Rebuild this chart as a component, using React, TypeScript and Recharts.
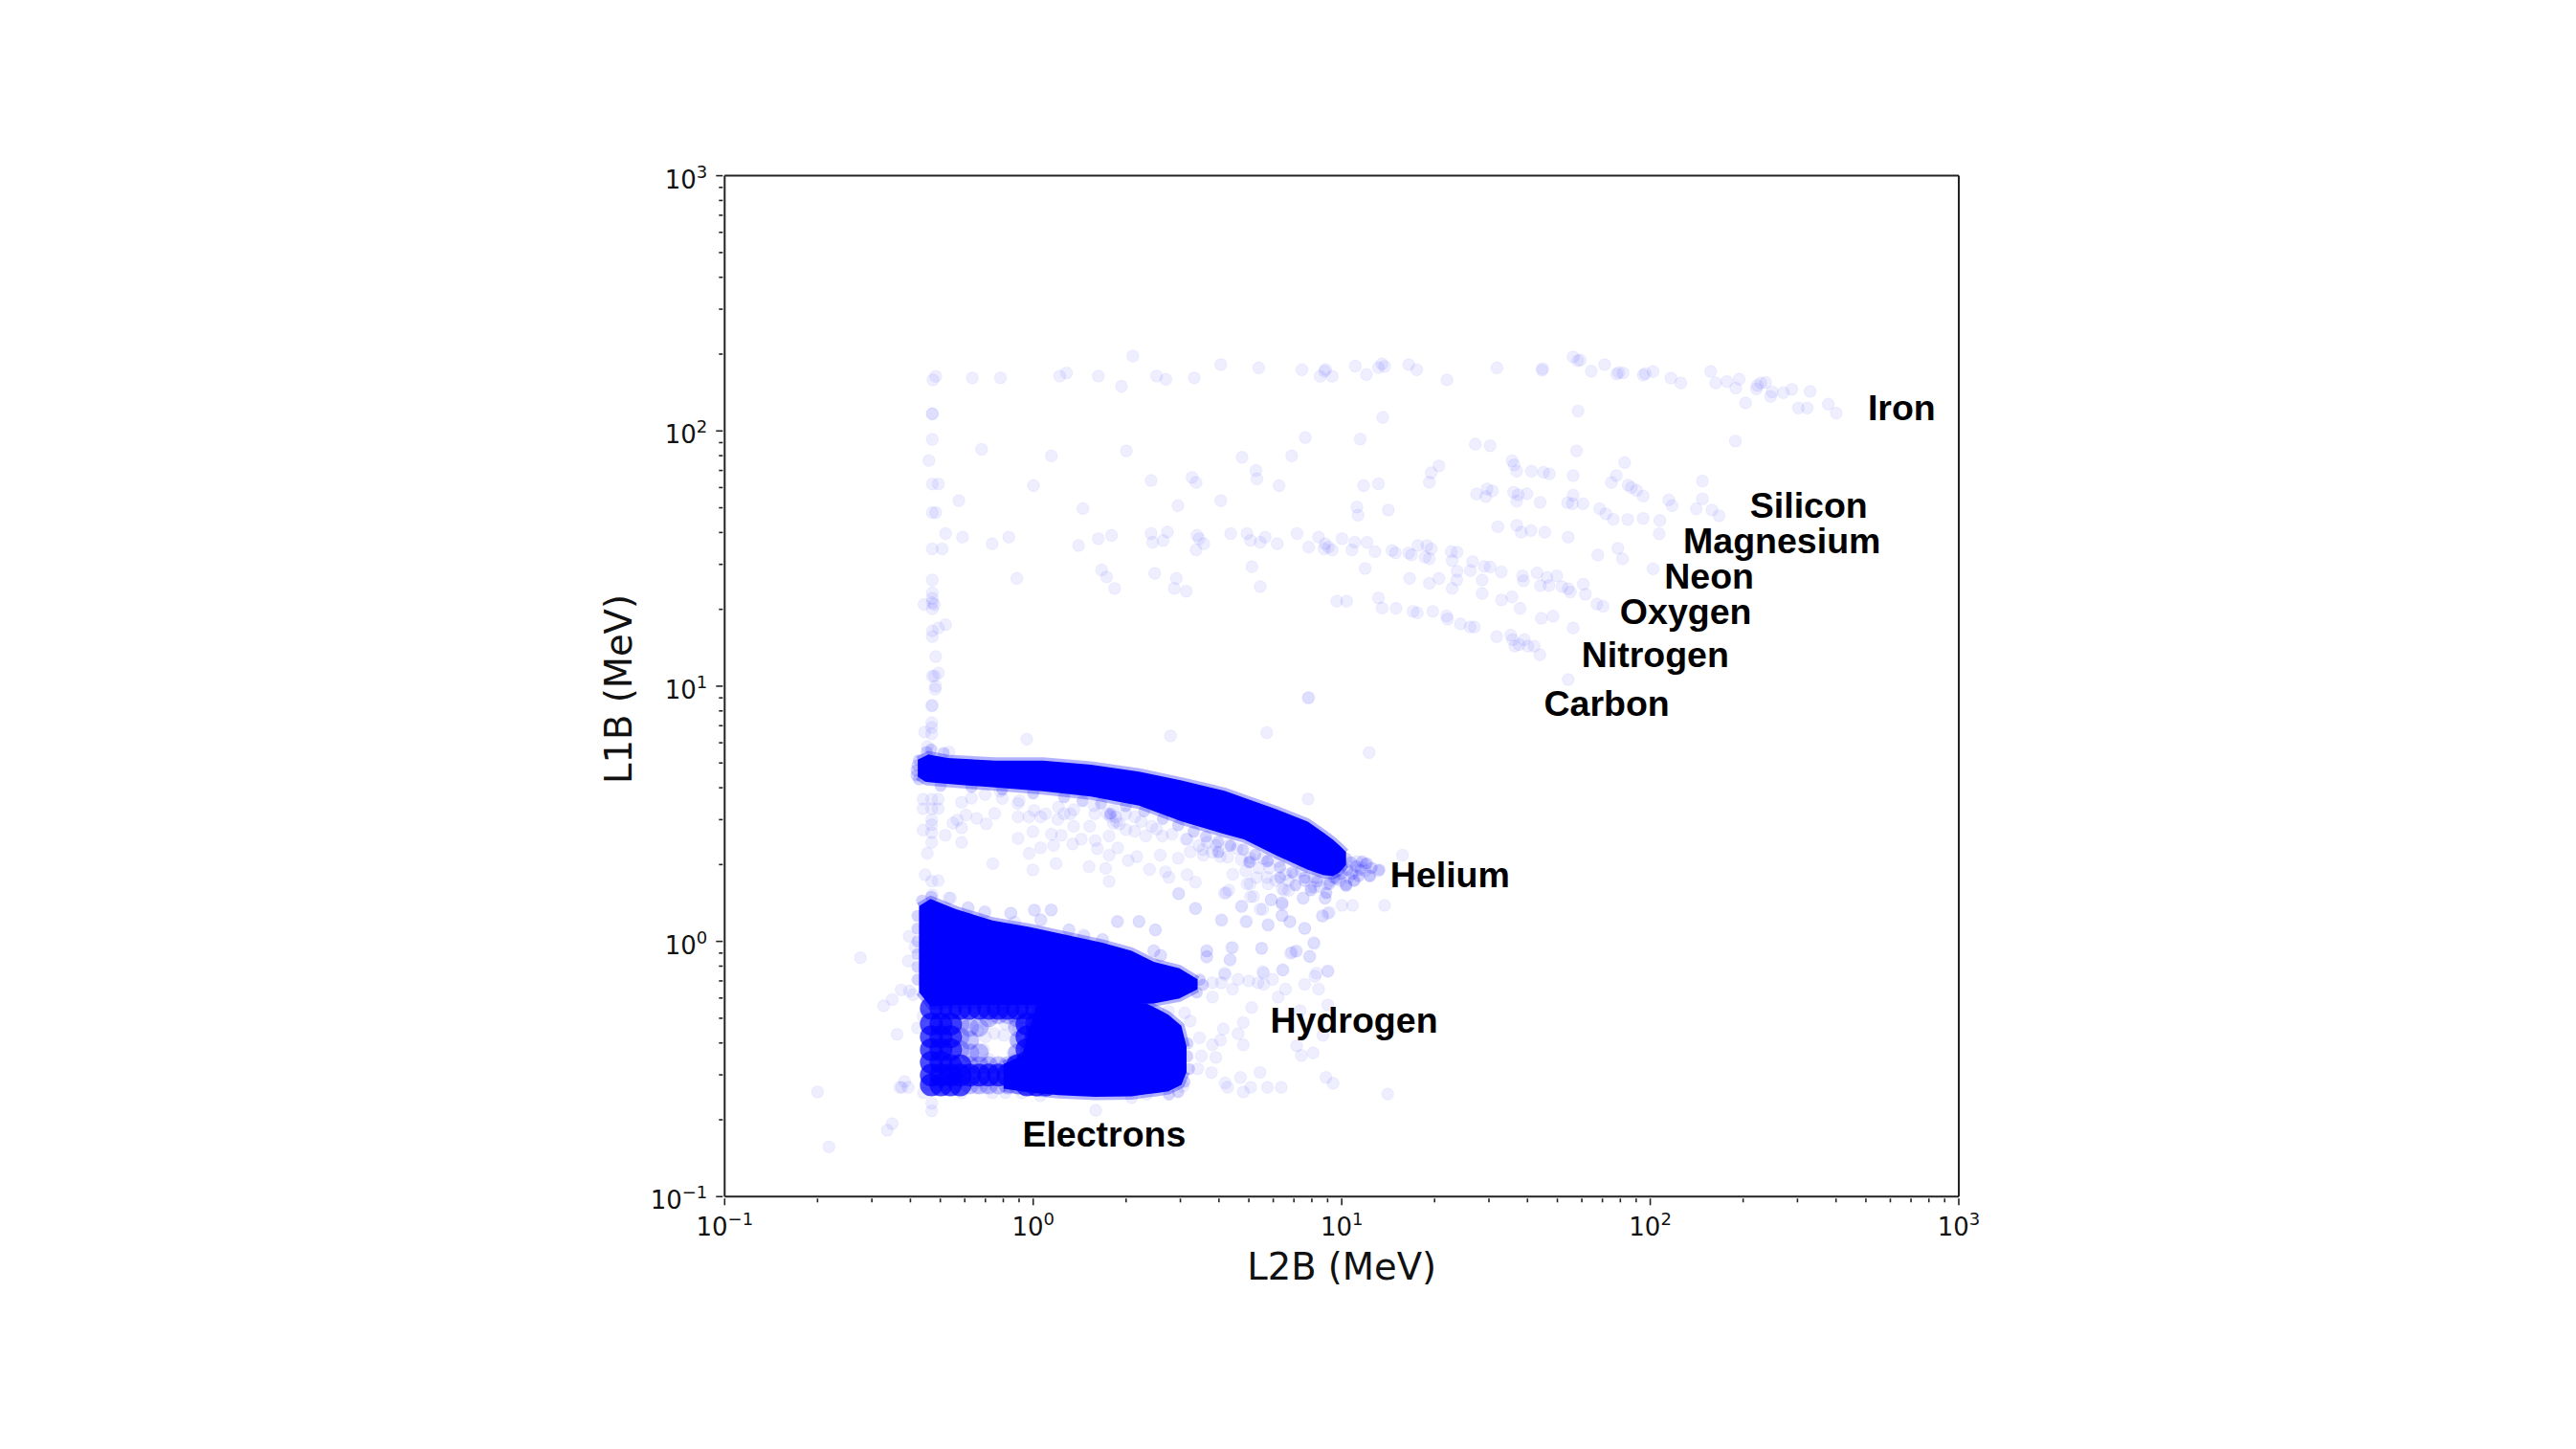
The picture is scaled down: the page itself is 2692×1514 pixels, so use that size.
import React from "react";
import { Area, ComposedChart, ReferenceDot, ReferenceLine, Scatter, XAxis, YAxis } from "recharts";

const heavyIonsLow: number[][] = [
  [0.323, 2.293], [0.608, 2.26], [0.731, 2.247], [0.871, 2.24], [0.944, 2.234], [0.948, 2.241], [0.93, 2.214], [0.969, 2.214],
  [1.044, 2.254], [1.08, 2.221], [1.119, 2.248], [1.13, 2.263], [1.139, 2.253], [1.217, 2.26], [1.243, 2.24], [-0.316, 2.214],
  [-0.325, 2.2], [-0.197, 2.208], [-0.106, 2.208], [0.086, 2.215], [0.108, 2.227], [0.211, 2.215], [0.286, 2.175], [0.4, 2.215],
  [0.43, 2.202], [0.522, 2.208], [-0.327, 2.067], [-0.327, 2.067], [-0.327, 1.967], [-0.338, 1.884], [-0.167, 1.928], [0.059, 1.902],
  [0.302, 1.922], [1.133, 2.053], [0.882, 1.974], [1.06, 1.968], [0.677, 1.897], [0.838, 1.902], [-0.327, 1.792], [-0.307, 1.792],
  [0.001, 1.786], [0.382, 1.806], [0.515, 1.818], [0.528, 1.798], [0.722, 1.845], [0.725, 1.812], [0.797, 1.786], [1.071, 1.786],
  [1.119, 1.793], [1.29, 1.836], [1.284, 1.799], [-0.241, 1.727], [-0.327, 1.68], [-0.316, 1.68], [0.161, 1.696], [0.469, 1.707],
  [0.608, 1.727], [1.049, 1.702], [1.053, 1.67], [1.151, 1.69], [-0.284, 1.598], [-0.229, 1.584], [-0.133, 1.558], [-0.079, 1.584],
  [0.147, 1.551], [0.211, 1.578], [0.254, 1.591], [0.382, 1.598], [0.387, 1.564], [0.421, 1.571], [0.435, 1.604], [0.531, 1.591],
  [0.538, 1.578], [0.553, 1.558], [0.528, 1.534], [0.64, 1.598], [0.693, 1.598], [0.704, 1.571], [0.736, 1.564], [0.752, 1.584],
  [0.791, 1.558], [0.855, 1.598], [0.893, 1.545], [0.925, 1.584], [0.946, 1.558], [0.943, 1.538], [0.957, 1.545], [0.969, 1.534],
  [1.001, 1.578], [1.033, 1.534], [1.042, 1.564], [1.082, 1.564], [1.108, 1.527], [1.163, 1.532], [1.174, 1.522], [1.217, 1.522],
  [1.226, 1.514], [1.247, 1.551], [1.276, 1.551], [1.27, 1.506], [1.284, 1.5], [1.29, 1.538], [-0.327, 1.538], [-0.295, 1.538],
  [-0.327, 1.416], [0.222, 1.455], [0.238, 1.428], [0.394, 1.442], [0.464, 1.422], [0.709, 1.468], [1.076, 1.461], [1.22, 1.422],
  [1.284, 1.403], [-0.053, 1.422], [0.264, 1.383], [0.457, 1.383], [0.496, 1.372], [0.736, 1.39], [-0.327, 1.366], [-0.327, 1.344],
  [-0.327, 1.327], [-0.354, 1.32], [-0.32, 1.32], [-0.327, 1.303], [0.984, 1.333], [1.016, 1.333], [1.119, 1.346], [1.131, 1.306],
  [1.176, 1.305], [1.231, 1.293], [1.245, 1.287], [1.295, 1.293], [-0.284, 1.241], [-0.307, 1.228], [-0.327, 1.217], [-0.327, 1.194],
  [-0.316, 1.116], [-0.327, 1.039], [-0.32, 1.04], [-0.307, 1.052], [-0.316, 1.0], [-0.327, 0.925], [0.893, 0.956],
];

const heavyIonsHigh: number[][] = [
  [1.341, 2.2], [1.503, 2.247], [1.649, 2.238], [1.651, 2.244], [1.75, 2.29], [1.765, 2.275], [1.773, 2.278], [1.809, 2.234],
  [1.852, 2.26], [1.891, 2.223], [1.898, 2.229], [1.912, 2.227], [1.977, 2.219], [1.984, 2.225], [2.009, 2.233], [2.067, 2.207],
  [2.099, 2.188], [2.196, 2.233], [2.212, 2.188], [2.248, 2.194], [2.277, 2.168], [2.288, 2.203], [2.344, 2.165], [2.347, 2.178],
  [2.358, 2.188], [2.374, 2.19], [2.39, 2.135], [2.395, 2.153], [2.431, 2.15], [2.459, 2.163], [2.518, 2.155], [2.309, 2.11],
  [2.48, 2.09], [2.509, 2.09], [2.577, 2.105], [2.603, 2.07], [1.766, 2.078], [2.276, 1.96], [1.433, 1.948], [1.481, 1.942],
  [1.761, 1.922], [1.917, 1.876], [1.552, 1.883], [1.559, 1.867], [1.567, 1.842], [1.315, 1.863], [1.615, 1.842], [1.654, 1.838],
  [1.673, 1.832], [1.75, 1.825], [1.89, 1.825], [1.874, 1.798], [1.928, 1.788], [1.939, 1.778], [1.956, 1.767], [1.977, 1.745],
  [2.169, 1.804], [1.471, 1.773], [1.488, 1.765], [1.437, 1.753], [1.467, 1.743], [1.557, 1.76], [1.572, 1.75], [1.567, 1.725],
  [1.6, 1.754], [1.643, 1.72], [1.75, 1.748], [1.732, 1.719], [1.748, 1.715], [1.782, 1.715], [2.06, 1.73], [2.071, 1.707],
  [2.169, 1.734], [2.149, 1.695], [2.2, 1.69], [2.223, 1.668], [1.836, 1.695], [1.856, 1.675], [1.88, 1.654], [1.927, 1.653],
  [1.977, 1.657], [2.031, 1.649], [1.506, 1.625], [1.567, 1.63], [1.582, 1.603], [1.613, 1.61], [1.658, 1.603], [1.734, 1.584],
  [2.029, 1.597], [1.83, 1.514], [1.895, 1.54], [1.91, 1.499], [2.009, 1.46], [1.355, 1.527], [1.374, 1.525], [1.358, 1.492],
  [1.424, 1.488], [1.417, 1.453], [1.462, 1.469], [1.481, 1.467], [1.517, 1.448], [1.374, 1.45], [1.373, 1.416], [1.358, 1.383],
  [1.315, 1.422], [1.455, 1.416], [1.455, 1.363], [1.586, 1.432], [1.589, 1.413], [1.633, 1.444], [1.665, 1.426], [1.644, 1.394],
  [1.672, 1.394], [1.697, 1.432], [1.714, 1.39], [1.734, 1.382], [1.741, 1.369], [1.783, 1.4], [1.79, 1.36], [1.827, 1.322],
  [1.847, 1.313], [1.552, 1.35], [1.518, 1.338], [1.578, 1.305], [1.647, 1.266], [1.685, 1.274], [1.75, 1.228], [1.34, 1.275],
  [1.343, 1.263], [1.385, 1.244], [1.416, 1.232], [1.43, 1.232], [1.502, 1.194], [1.548, 1.2], [1.554, 1.182], [1.575, 1.163],
  [1.592, 1.182], [1.603, 1.157], [1.624, 1.157], [1.561, 1.157], [1.642, 1.123], [1.734, 1.026],
];

const heliumDots: number[][] = [
  [-0.318, 0.988], [-0.329, 0.923], [-0.329, 0.857], [-0.329, 0.838], [-0.352, 0.82], [-0.329, 0.813], [-0.343, 0.763], [-0.273, 0.742],
  [-0.021, 0.792], [0.445, 0.805], [0.757, 0.818], [0.891, 0.953], [1.089, 0.74], [0.891, 0.558], [-0.357, 0.557], [-0.329, 0.557],
  [-0.308, 0.557], [-0.357, 0.52], [-0.329, 0.52], [-0.308, 0.52], [-0.329, 0.476], [-0.357, 0.436], [-0.329, 0.457], [-0.329, 0.426],
  [-0.329, 0.388], [-0.343, 0.345], [-0.285, 0.416], [-0.232, 0.388], [-0.246, 0.476], [-0.232, 0.545], [-0.2, 0.561], [-0.156, 0.576],
  [-0.107, 0.588], [-0.045, 0.551], [0.003, 0.513], [-0.125, 0.501], [-0.183, 0.482], [-0.152, 0.461], [-0.218, 0.495], [-0.232, 0.445],
  [-0.26, 0.463], [-0.049, 0.488], [-0.014, 0.488], [0.024, 0.488], [0.08, 0.478], [0.082, 0.526], [0.132, 0.516], [0.197, 0.532],
  [0.26, 0.513], [0.267, 0.488], [0.26, 0.463], [0.329, 0.488], [0.131, 0.451], [0.183, 0.451], [0.301, 0.438], [0.329, 0.432],
  [0.384, 0.451], [0.419, 0.413], [0.365, 0.413], [-0.001, 0.43], [-0.049, 0.403], [0.091, 0.416], [0.059, 0.42], [0.066, 0.376],
  [0.024, 0.367], [-0.013, 0.345], [0.128, 0.382], [0.156, 0.401], [0.201, 0.395], [0.246, 0.413], [0.274, 0.366], [0.208, 0.363],
  [0.246, 0.338], [0.412, 0.338], [0.336, 0.332], [0.308, 0.317], [0.47, 0.326], [0.074, 0.305], [-0.001, 0.28], [-0.131, 0.305],
  [0.181, 0.293], [0.235, 0.286], [0.377, 0.282], [0.429, 0.273], [0.44, 0.251], [0.499, 0.261], [0.526, 0.232], [0.246, 0.235],
  [0.472, 0.188], [0.62, 0.188], [0.634, 0.201], [0.526, 0.13], [0.61, 0.085], [0.689, 0.077], [0.343, 0.077], [0.395, 0.045],
  [0.274, 0.077], [0.003, 0.123], [0.059, 0.123], [-0.073, 0.11], [-0.156, 0.117], [-0.211, 0.131], [-0.273, 0.17], [-0.35, 0.261],
  [-0.329, 0.236], [-0.308, 0.238], [0.024, 0.086], [0.117, 0.045], [0.163, 0.026], [0.225, 0.007], [0.495, 0.401], [0.537, 0.376],
  [0.564, 0.388], [0.592, 0.376], [0.634, 0.376], [0.661, 0.363], [0.509, 0.351], [0.551, 0.338], [0.606, 0.332], [0.675, 0.32],
  [0.647, 0.263], [0.689, 0.276], [0.703, 0.226], [0.758, 0.251], [0.814, 0.201], [0.883, 0.238], [0.911, 0.213], [0.952, 0.226],
  [1.014, 0.226], [1.077, 0.276], [1.118, 0.276], [1.197, 0.338], [1.139, 0.141], [1.035, 0.141], [1.001, 0.141], [0.945, 0.17],
  [0.876, 0.17], [0.807, 0.151], [0.772, 0.163], [0.714, 0.176], [0.744, 0.126], [0.675, 0.136], [0.807, 0.101], [0.938, 0.098],
  [0.955, 0.11], [0.832, 0.076], [0.761, 0.063], [0.88, 0.051], [0.911, -0.008], [0.897, -0.059], [0.851, -0.039], [0.834, -0.047],
  [0.74, -0.027], [0.643, -0.024], [0.562, -0.037], [0.562, -0.062], [0.638, -0.074], [0.62, -0.124], [0.744, -0.118], [0.81, -0.112],
  [0.918, -0.124], [0.955, -0.115], [0.412, -0.055], [0.391, -0.037], [0.827, 0.238], [0.869, 0.276], [0.911, 0.251], [0.758, 0.313],
  [0.731, 0.288], [0.703, 0.326], [1.049, 0.313], [1.063, 0.288], [1.022, 0.251], [0.994, 0.238], [1.077, 0.301], [1.091, 0.257],
  [0.704, 0.313], [0.745, 0.325], [0.724, 0.25], [0.693, 0.225], [0.766, 0.288], [0.761, 0.225], [0.797, 0.313], [0.817, 0.263],
  [0.848, 0.263], [0.879, 0.238], [0.9, 0.213], [0.931, 0.213], [0.962, 0.238], [0.704, 0.175], [0.771, 0.163], [0.807, 0.206],
  [0.828, 0.2], [0.874, 0.169], [0.947, 0.169], [0.807, 0.144], [1.014, 0.219], [1.04, 0.238], [0.993, 0.263], [0.921, 0.25],
  [0.786, 0.238], [0.25, 0.49], [0.27, 0.47], [0.24, 0.5], [0.28, 0.46], [0.1, 0.5], [0.12, 0.5], [0.04, 0.5], [-0.05, 0.54], [-0.1, 0.56],
  [0.2, 0.5], [0.3, 0.5], [0.35, 0.47], [0.4, 0.44], [0.45, 0.42], [0.5, 0.4], [0.55, 0.36], [0.58, 0.35], [0.63, 0.33],
];

const lowEnergyDots: number[][] = [
  [-0.56, -0.064], [-0.402, 0.02], [-0.383, -0.022], [-0.405, -0.077], [-0.699, -0.59], [-0.662, -0.805], [-0.473, -0.74], [-0.457, -0.714],
  [-0.485, -0.252], [-0.457, -0.228], [-0.428, -0.19], [-0.401, -0.194], [-0.389, -0.209], [-0.375, -0.339], [-0.441, -0.364], [-0.432, -0.572],
  [-0.426, -0.572], [-0.405, -0.572], [-0.355, -0.593], [-0.329, -0.634], [-0.329, -0.664], [0.203, -0.662], [-0.357, -0.293], [-0.417, -0.549],
  [-0.327, 0.182], [-0.268, 0.17], [-0.211, 0.132], [-0.158, 0.113], [-0.072, 0.111], [0.005, 0.122], [0.058, 0.123], [0.025, 0.082],
  [-0.06, 0.076], [0.115, 0.045], [0.165, 0.02], [0.224, 0.007], [0.391, -0.037], [0.414, -0.055], [0.272, 0.079], [0.343, 0.079],
  [0.397, 0.045], [0.471, 0.186], [0.625, 0.191], [0.581, -0.162], [0.61, -0.162], [0.581, -0.218], [0.622, -0.13], [0.646, -0.187],
  [0.664, -0.149], [0.699, -0.155], [0.729, -0.162], [0.747, -0.124], [0.747, -0.168], [0.776, -0.149], [0.818, -0.187], [0.808, -0.112],
  [0.88, -0.168], [0.913, -0.137], [0.925, -0.187], [0.955, -0.118], [0.794, -0.218], [0.708, -0.259], [0.646, -0.024], [0.638, -0.07],
  [0.563, -0.037], [0.563, -0.059], [0.741, -0.027], [0.838, -0.043], [0.854, -0.037], [0.895, -0.059], [0.909, -0.005], [0.611, 0.082],
  [0.526, 0.128], [0.692, 0.079], [0.762, 0.066], [0.832, 0.079], [0.88, 0.051], [0.676, 0.139], [0.735, 0.126], [0.806, 0.151],
  [0.806, 0.101], [0.937, 0.101], [0.96, 0.114], [0.491, -0.28], [0.438, -0.274], [0.509, -0.312], [0.539, -0.378], [0.533, -0.499],
  [0.578, -0.514], [0.581, -0.405], [0.607, -0.387], [0.592, -0.455], [0.545, -0.449], [0.616, -0.343], [0.664, -0.362], [0.681, -0.318],
  [0.681, -0.405], [0.854, -0.409], [0.869, -0.447], [0.907, -0.437], [0.939, -0.368], [0.865, -0.272], [0.955, -0.249], [0.735, -0.513],
  [0.672, -0.533], [0.622, -0.555], [0.63, -0.572], [0.705, -0.572], [0.681, -0.59], [0.759, -0.572], [0.804, -0.572], [0.949, -0.533],
  [0.486, -0.568], [0.319, -0.612], [0.367, -0.599], [1.149, -0.598], [0.972, -0.556],
];

// lighter patch inside the electron blob and the fuzz along its lower edge
const holeDots: number[][] = [
  [-0.155, -0.324], [-0.132, -0.299], [-0.096, -0.287], [-0.06, -0.293], [-0.155, -0.374], [-0.161, -0.424], [-0.143, -0.462], [-0.096, -0.368],
  [-0.06, -0.387], [-0.049, -0.336], [-0.066, -0.437], [-0.126, -0.361], [-0.09, -0.324], [-0.179, -0.349], [-0.037, -0.299], [-0.06, -0.462],
  [-0.167, -0.474], [-0.339, -0.561], [-0.31, -0.574], [-0.286, -0.577], [-0.25, -0.555], [-0.232, -0.593], [-0.185, -0.574], [-0.155, -0.574],
  [-0.132, -0.593], [-0.09, -0.593], [-0.037, -0.593], [0.023, -0.605],
];

// crowded parts of the electron blob, where single dots no longer show
const crowdedDots: number[][] = [
  [-0.33, -0.262], [-0.33, -0.324], [-0.33, -0.374], [-0.33, -0.424], [-0.33, -0.474], [-0.33, -0.524], [-0.33, -0.562],
  [-0.299, -0.262], [-0.299, -0.324], [-0.299, -0.374], [-0.299, -0.424], [-0.299, -0.474], [-0.299, -0.524], [-0.299, -0.562],
  [-0.268, -0.262], [-0.268, -0.324], [-0.268, -0.374], [-0.268, -0.424], [-0.268, -0.487], [-0.268, -0.524], [-0.268, -0.562],
  [-0.237, -0.262], [-0.237, -0.487], [-0.237, -0.524], [-0.237, -0.562], [-0.206, -0.262], [-0.206, -0.524], [-0.175, -0.262],
  [-0.175, -0.524], [-0.144, -0.262], [-0.144, -0.524], [-0.113, -0.262], [-0.113, -0.524], [-0.082, -0.262], [-0.082, -0.524],
  [-0.051, -0.262], [-0.051, -0.487], [-0.051, -0.524], [-0.02, -0.262], [-0.02, -0.324], [-0.02, -0.374], [-0.02, -0.424],
  [-0.02, -0.474], [-0.02, -0.524], [-0.02, -0.562], [0.011, -0.262], [0.011, -0.324], [0.011, -0.374], [0.011, -0.424],
  [0.011, -0.474], [0.011, -0.524], [0.011, -0.562], [0.042, -0.474], [0.042, -0.524], [0.042, -0.562],
];
const mottledDots: number[][] = [
  [-0.237, -0.324], [-0.237, -0.374], [-0.237, -0.424], [-0.206, -0.337], [-0.206, -0.387], [-0.206, -0.437], [-0.206, -0.487], [-0.175, -0.337],
  [-0.175, -0.437], [-0.175, -0.487], [-0.144, -0.487], [-0.113, -0.487], [-0.082, -0.487], [-0.144, -0.299], [-0.113, -0.287], [-0.082, -0.287],
  [-0.051, -0.299], [-0.051, -0.337], [-0.045, -0.387], [-0.051, -0.437], [-0.206, -0.562], [-0.175, -0.562], [-0.144, -0.562], [-0.113, -0.562],
  [-0.082, -0.562], [-0.051, -0.562],
];

// blurred rims of the saturated regions
const rimDots: number[][] = [
  [-0.378, 0.67], [-0.375, 0.69], [-0.378, 0.65], [-0.37, 0.635], [-0.37, 0.71], [-0.345, 0.742], [-0.33, 0.752], [-0.29, 0.738],
  [1.014, 0.325], [1.03, 0.31], [1.045, 0.295], [1.06, 0.28], [1.0, 0.3], [1.02, 0.28], [1.035, 0.265], [1.0, 0.265], [0.975, 0.25],
  [1.066, 0.313], [1.097, 0.288], [1.122, 0.281], [1.081, 0.306], [1.055, 0.256], [1.014, 0.219], [0.983, 0.244], [1.04, 0.238], [1.091, 0.256],
  [0.3, 0.53], [0.36, 0.51], [0.42, 0.48], [0.47, 0.455], [0.52, 0.43], [0.56, 0.41], [0.6, 0.39], [0.64, 0.375], [0.68, 0.36], [0.72, 0.34],
  [0.76, 0.315], [0.8, 0.29], [0.84, 0.27], [0.88, 0.25], [0.92, 0.235], [0.96, 0.225], [0.1, 0.565], [0.16, 0.55], [0.22, 0.54], [0.0, 0.58],
  [-0.1, 0.595], [-0.2, 0.605], [-0.3, 0.61], [0.25, 0.5], [0.6, 0.35], [0.7, 0.31], [0.8, 0.25], [0.9, 0.2], [0.95, 0.19], [0.85, 0.22],
  [-0.375, 0.1], [-0.375, 0.05], [-0.375, 0.0], [-0.375, -0.05], [-0.375, -0.1], [-0.375, -0.15], [-0.36, 0.16], [-0.33, 0.175],
  [0.54, -0.15], [0.55, -0.17], [0.53, -0.2], [0.5, -0.45], [0.505, -0.5], [0.5, -0.4], [0.49, -0.55], [0.47, -0.59], [0.44, -0.6],
];

// envelopes of the saturated regions: [log L2B, log L1B lower edge, log L1B upper edge]
const heliumBand: number[][] = [
  [-0.374, 0.645, 0.712], [-0.35, 0.626, 0.726], [-0.34, 0.624, 0.733], [-0.278, 0.617, 0.719], [-0.123, 0.603, 0.708], [0.032, 0.588, 0.708],
  [0.187, 0.568, 0.692], [0.343, 0.532, 0.665], [0.481, 0.47, 0.63], [0.62, 0.42, 0.59], [0.683, 0.4, 0.563], [0.786, 0.338, 0.519],
  [0.89, 0.281, 0.469], [0.942, 0.259, 0.425], [0.972, 0.256, 0.398], [0.993, 0.27, 0.375], [1.014, 0.3, 0.35],
];
const hydrogenWedge: number[][] = [
  [-0.37, -0.199, 0.138], [-0.333, -0.255, 0.166], [-0.25, -0.249, 0.126], [-0.132, -0.249, 0.082], [-0.013, -0.249, 0.057], [0.106, -0.249, 0.026],
  [0.224, -0.249, -0.005], [0.319, -0.246, -0.037], [0.391, -0.243, -0.08], [0.474, -0.224, -0.105], [0.533, -0.187, -0.149],
];
const electronCore: number[][] = [
  [-0.096, -0.577, -0.48], [-0.037, -0.587, -0.449], [0.011, -0.594, -0.249], [0.082, -0.602, -0.243], [0.201, -0.609, -0.243], [0.319, -0.607, -0.243],
  [0.367, -0.599, -0.243], [0.402, -0.594, -0.264], [0.438, -0.587, -0.287], [0.48, -0.562, -0.33], [0.497, -0.512, -0.412],
];

const speciesLabels: [string, number, number][] = [
  ["Iron", 2.815, 2.091],
  ["Silicon", 2.514, 1.71],
  ["Magnesium", 2.427, 1.572],
  ["Neon", 2.191, 1.432],
  ["Oxygen", 2.115, 1.294],
  ["Nitrogen", 2.016, 1.123],
  ["Carbon", 1.859, 0.934],
  ["Helium", 1.351, 0.263],
  ["Hydrogen", 1.04, -0.309],
  ["Electrons", 0.23, -0.755],
];

const decades = [-1, 0, 1, 2, 3];
const minorSteps = [2, 3, 4, 5, 6, 7, 8, 9];

const BLUE = "#0000ff";
const AXIS_FONT = "'DejaVu Sans', sans-serif";

const logTicks = decades.flatMap((d) =>
  d === 3 ? [1000] : [10 ** d, ...minorSteps.map((m) => m * 10 ** d)]
);
const toPoints = (pts: number[][]) => pts.map(([a, b]) => ({ x: 10 ** a, y: 10 ** b }));
const toBand = (pts: number[][]) => pts.map(([a, lo, hi]) => ({ x: 10 ** a, band: [10 ** lo, 10 ** hi] }));

function exponentOf(value: number) {
  const e = Math.log10(value);
  return Math.abs(e - Math.round(e)) < 1e-6 ? Math.round(e) : null;
}

function powerLabel(e: number) {
  return e < 0 ? `\u2212${-e}` : `${e}`;
}

function XTick({ x, y, payload }: any) {
  const e = exponentOf(payload.value);
  return (
    <g>
      <line x1={x} x2={x} y1={y} y2={y + (e === null ? 4 : 7)} stroke="#222" strokeWidth={1.6} />
      {e !== null && (
        <text x={x} y={y + 39} textAnchor="middle" fontSize={26} fontFamily={AXIS_FONT} fill="#111">
          10
          <tspan dy={-11} fontSize={18}>{powerLabel(e)}</tspan>
        </text>
      )}
    </g>
  );
}

function YTick({ x, y, payload }: any) {
  const e = exponentOf(payload.value);
  return (
    <g>
      <line x1={x} x2={x - (e === null ? 4 : 7)} y1={y} y2={y} stroke="#222" strokeWidth={1.6} />
      {e !== null && (
        <text x={x - 16} y={y + 13} textAnchor="end" fontSize={26} fontFamily={AXIS_FONT} fill="#111">
          10
          <tspan dy={-11} fontSize={18}>{powerLabel(e)}</tspan>
        </text>
      )}
    </g>
  );
}

function Ring({ cx, cy }: any) {
  return <circle cx={cx} cy={cy} r={6.3} fill={BLUE} fillOpacity={0.065} stroke={BLUE} strokeOpacity={0.04} strokeWidth={1.2} />;
}
function RimDot({ cx, cy }: any) {
  return <circle cx={cx} cy={cy} r={6.3} fill={BLUE} fillOpacity={0.17} />;
}
function CrowdDot({ cx, cy }: any) {
  return <circle cx={cx} cy={cy} r={12} fill={BLUE} fillOpacity={0.7} />;
}
function MottleDot({ cx, cy }: any) {
  return <circle cx={cx} cy={cy} r={10} fill={BLUE} fillOpacity={0.22} />;
}

export default function App() {
  const soft = { type: "linear" as const, dataKey: "band", stroke: BLUE, strokeOpacity: 0.3, strokeWidth: 7, strokeLinejoin: "round" as const, fill: BLUE, fillOpacity: 1, dot: false, activeDot: false, isAnimationActive: false, legendType: "none" as const };
  return (
    <div style={{ position: "absolute", left: 0, top: 0, width: 2692, height: 1514, background: "#fff" }}>
      <ComposedChart width={2692} height={1514} margin={{ top: 183.6, right: 645, bottom: 163.7, left: 627.3 }}>
        <XAxis
          type="number"
          dataKey="x"
          scale="log"
          domain={[0.1, 1000]}
          allowDataOverflow
          ticks={logTicks}
          interval={0}
          height={100}
          tickLine={false}
          tickSize={0}
          tick={<XTick />}
          axisLine={{ stroke: "#222", strokeWidth: 2 }}
          label={{ value: "L2B (MeV)", position: "insideBottom", offset: 13, fontSize: 38.5, fontFamily: AXIS_FONT, fill: "#111" }}
        />
        <YAxis
          type="number"
          scale="log"
          domain={[0.1, 1000]}
          allowDataOverflow
          ticks={logTicks}
          interval={0}
          width={130}
          tickLine={false}
          tickSize={0}
          tick={<YTick />}
          axisLine={{ stroke: "#222", strokeWidth: 2 }}
          label={{ value: "L1B (MeV)", angle: -90, position: "insideLeft", offset: 19, dy: 3, fontSize: 38.5, fontFamily: AXIS_FONT, fill: "#111", style: { textAnchor: "middle" } }}
        />
        <ReferenceLine x={1000} stroke="#222" strokeWidth={2} />
        <ReferenceLine y={1000} stroke="#222" strokeWidth={2} />

        <Scatter data={toPoints(mottledDots)} dataKey="y" shape={<MottleDot />} isAnimationActive={false} />
        <Scatter data={toPoints(crowdedDots)} dataKey="y" shape={<CrowdDot />} isAnimationActive={false} />
        <Scatter data={toPoints(rimDots)} dataKey="y" shape={<RimDot />} isAnimationActive={false} />

        <Area {...soft} data={toBand(electronCore)} />
        <Area {...soft} data={toBand(hydrogenWedge)} />
        <Area {...soft} data={toBand(heliumBand)} />

        <Scatter data={toPoints(heavyIonsLow)} dataKey="y" shape={<Ring />} isAnimationActive={false} />
        <Scatter data={toPoints(heavyIonsHigh)} dataKey="y" shape={<Ring />} isAnimationActive={false} />
        <Scatter data={toPoints(heliumDots)} dataKey="y" shape={<Ring />} isAnimationActive={false} />
        <Scatter data={toPoints(lowEnergyDots)} dataKey="y" shape={<Ring />} isAnimationActive={false} />
        <Scatter data={toPoints(holeDots)} dataKey="y" shape={<Ring />} isAnimationActive={false} />

        {speciesLabels.map(([name, a, b]) => (
          <ReferenceDot
            key={name}
            x={10 ** a}
            y={10 ** b}
            r={0}
            stroke="none"
            fill="none"
            label={{ value: name, position: "center", fontSize: 37.5, fontWeight: 700, fontFamily: "'Liberation Sans', Arial, sans-serif", fill: "#000" }}
          />
        ))}
      </ComposedChart>
    </div>
  );
}
